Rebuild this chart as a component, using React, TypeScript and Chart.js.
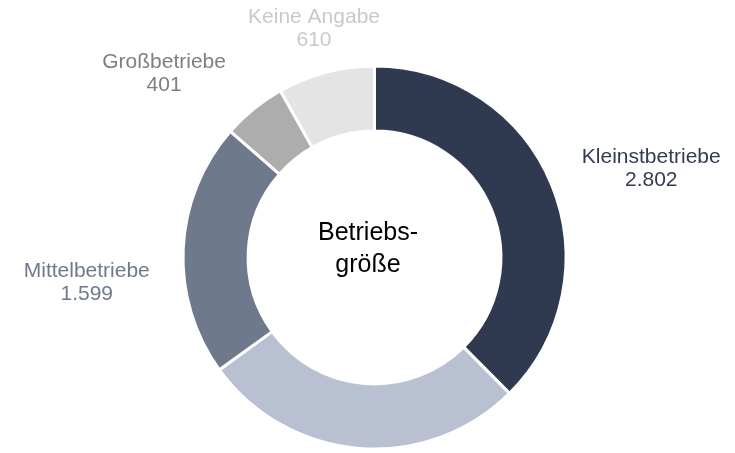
import React, { useEffect, useRef } from "react";
import { Chart, registerables } from "chart.js";

Chart.register(...registerables);

const categories = ["Kleinstbetriebe", "Kleinbetriebe", "Mittelbetriebe", "Großbetriebe", "Keine Angabe"];
const values = [2802, 2050, 1599, 401, 610];
const segmentColors = ["#2f3a50", "#b9c0d2", "#6f798c", "#adadad", "#e4e4e4"];
const labelColors = ["#323c51", "#b9c0d2", "#6f798c", "#7f7f7f", "#c9c9c9"];
const centerLines = ["Betriebs-", "größe"];

// layout tweaks for the outside labels (px), relative to their geometric position
const labelNudge = [
  [17, -1],
  [0, 0],
  [-13.5, 35],
  [-38, -3],
  [10, -3],
];

const FONT = "'Liberation Sans', Arial, sans-serif";

function fmt(n: number): string {
  return String(n).replace(/\B(?=(\d{3})+(?!\d))/g, ".");
}

const labelPlugin = {
  id: "outsideLabels",
  afterDatasetsDraw(chart: any) {
    const ctx = chart.ctx;
    const meta = chart.getDatasetMeta(0);
    ctx.save();
    ctx.font = `21px ${FONT}`;
    ctx.textAlign = "center";
    ctx.textBaseline = "alphabetic";
    const lineGap = 23;
    const h = 47;
    meta.data.forEach((arc: any, i: number) => {
      const p = arc.getProps(["x", "y", "startAngle", "endAngle", "outerRadius"], true);
      const mid = (p.startAngle + p.endAngle) / 2;
      const c = Math.cos(mid);
      const s = Math.sin(mid);
      const w = ctx.measureText(categories[i]).width;
      const r = p.outerRadius + 20;
      const bx = p.x + r * c + (c * w) / 2 + labelNudge[i][0];
      const by = p.y + r * s + (s * h) / 2 + labelNudge[i][1];
      const b1 = by - 4.25;
      ctx.fillStyle = labelColors[i];
      ctx.fillText(categories[i], bx, b1);
      ctx.fillText(fmt(values[i]), bx, b1 + lineGap);
    });
    // centre text
    const a0 = meta.data[0];
    if (a0) {
      const cx = a0.x - 6.5;
      const cy = a0.y;
      ctx.font = `25px ${FONT}`;
      ctx.fillStyle = "#000000";
      ctx.fillText(centerLines[0], cx, cy - 17.5);
      ctx.fillText(centerLines[1], cx, cy + 14);
    }
    ctx.restore();
  },
};

export default function App() {
  const ref = useRef<HTMLCanvasElement | null>(null);
  useEffect(() => {
    if (!ref.current) return;
    const chart = new Chart(ref.current, {
      type: "doughnut",
      data: {
        labels: categories,
        datasets: [
          {
            data: values,
            backgroundColor: segmentColors,
            borderColor: "#ffffff",
            borderWidth: 3,
            hoverOffset: 0,
          },
        ],
      },
      options: {
        animation: false,
        responsive: true,
        maintainAspectRatio: false,
        cutout: "66%",
        layout: { padding: { left: 181.5, top: 64.5, right: 167.5, bottom: 2.5 } },
        plugins: {
          legend: { display: false },
          tooltip: { enabled: false },
        },
      },
      plugins: [labelPlugin],
    });
    return () => chart.destroy();
  }, []);
  return (
    <div style={{ position: "fixed", left: 0, top: 0, width: 735, height: 453, background: "#ffffff" }}>
      <canvas ref={ref} />
    </div>
  );
}
